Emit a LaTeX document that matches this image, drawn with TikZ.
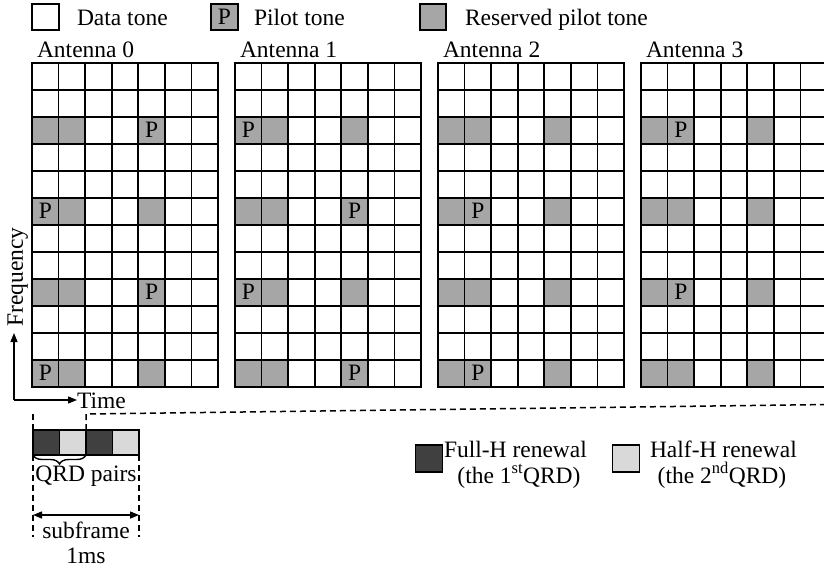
\documentclass[tikz,border=0pt]{standalone}
\usepackage{fontspec}
\setmainfont{Liberation Serif}
\usetikzlibrary{arrows.meta,decorations.pathreplacing}
\definecolor{resgrey}{HTML}{A6A6A6}
\definecolor{darkq}{HTML}{404040}
\definecolor{lightq}{HTML}{D9D9D9}
\begin{document}
\begin{tikzpicture}[x=1pt,y=-1pt,
  font=\fontsize{23.5}{28}\selectfont,
  cell/.style={draw,line width=1.7pt,minimum width=26.57pt,minimum height=27pt,inner sep=0pt,outer sep=0pt},
  legbox/.style={draw,line width=1.6pt,minimum width=26.5pt,minimum height=26pt,inner sep=0pt,outer sep=0pt},
  qbox/.style={draw,line width=1.6pt,minimum width=26.5pt,minimum height=25pt,inner sep=0pt,outer sep=0pt},
  txt/.style={inner sep=0pt,outer sep=0pt},
  dsh/.style={line width=1.5pt,dash pattern=on 6pt off 4pt},
  arr/.style={line width=1.4pt,-{Triangle[length=9pt,width=7pt]}},
  darr/.style={line width=1.4pt,{Triangle[length=9pt,width=7pt]}-{Triangle[length=9pt,width=7pt]}}]
\useasboundingbox (0,0) rectangle (824,569);
\clip (0,0) rectangle (824,569);
% top legend
\node[legbox,fill=white] (lgdata) at (45.5,17) {};
\node[txt,anchor=base west] (lgdatat) at (77,26) {Data tone};
\node[legbox,fill=resgrey] (lgpilot) at (224.5,17) {P};
\node[txt,anchor=base west] (lgpilott) at (254,26) {Pilot tone};
\node[legbox,fill=resgrey] (lgres) at (433,17) {};
\node[txt,anchor=base west] (lgrest) at (465,26) {Reserved pilot tone};
% grids
\foreach \a in {0,...,3}{
  \node[txt,anchor=base west] (ant\a) at ({37+203*\a},58) {Antenna \a};
  \foreach \r in {0,...,11}{
    \foreach \c in {0,...,6}{
      \pgfmathtruncatemacro\isg{(mod(\r,3)==2)&&((\c==0)||(\c==1)||(\c==4))}
      \ifnum\isg=1 \def\fc{resgrey}\else\def\fc{white}\fi
      \node[cell,fill=\fc] (c\a-\r-\c) at ({32+203*\a+26.57*(\c+0.5)},{62.7+27*(\r+0.5)}) {};
    }
  }
}
\foreach \a/\r/\c in {0/2/4,0/5/0,0/8/4,0/11/0,1/2/0,1/5/4,1/8/0,1/11/4,2/5/1,2/11/1,3/2/1,3/8/1}
  \node[txt] (p\a-\r-\c) at (c\a-\r-\c) {P};
% axes
\coordinate (ax) at (14,400);
\coordinate (axf) at (14,333);
\coordinate (axt) at (77,400);
\draw[arr] (ax) -- (axf);
\draw[arr] (ax) -- (axt);
\node[txt,anchor=base,rotate=90] (freq) at (23,277) {Frequency};
\node[txt,anchor=base west] (time) at (77,408) {Time};
% subframe boxes
\node[qbox,fill=darkq] (q1) at (46.25,442.5) {};
\node[qbox,fill=lightq] (q2) at (72.75,442.5) {};
\node[qbox,fill=darkq] (q3) at (99.25,442.5) {};
\node[qbox,fill=lightq] (q4) at (125.75,442.5) {};
\coordinate (dl) at (33,413);
\coordinate (dm) at (86,414);
\coordinate (dr) at (830,404.5);
\draw[dsh] (q1.north west) -- (dl);
\draw[dsh] (q2.north east) -- (dm) -- (dr);
\coordinate (bl) at (33,537);
\coordinate (br) at (139,537);
\draw[dsh] (q1.south west) -- (bl);
\draw[dsh] (q4.south east) -- (br);
\draw[line width=1.4pt,decorate,decoration={brace,mirror,amplitude=9pt}] (q1.south west) -- (q2.south east);
\node[txt,anchor=base] (qrd) at (86,481) {QRD pairs};
\coordinate (sl) at (33,515);
\coordinate (sr) at (139,515);
\draw[darr] (sl) -- (sr);
\node[txt,anchor=base] (sub) at (86,538) {subframe};
\node[txt,anchor=base] (ms) at (86,563) {1ms};
% bottom legend
\node[legbox,fill=darkq,minimum height=27pt,minimum width=27pt] (lgfull) at (429,458.5) {};
\node[txt,anchor=base west] (lgfullt) at (444,457) {Full-H renewal};
\node[txt,anchor=base] (lgfullt2) at (519,483) {(the 1\textsuperscript{st}QRD)};
\node[legbox,fill=lightq,minimum height=27pt,minimum width=27pt] (lghalf) at (626,458.5) {};
\node[txt,anchor=base west] (lghalft) at (650,457) {Half-H renewal};
\node[txt,anchor=base] (lghalft2) at (722,483) {(the 2\textsuperscript{nd}QRD)};
\end{tikzpicture}
\end{document}
